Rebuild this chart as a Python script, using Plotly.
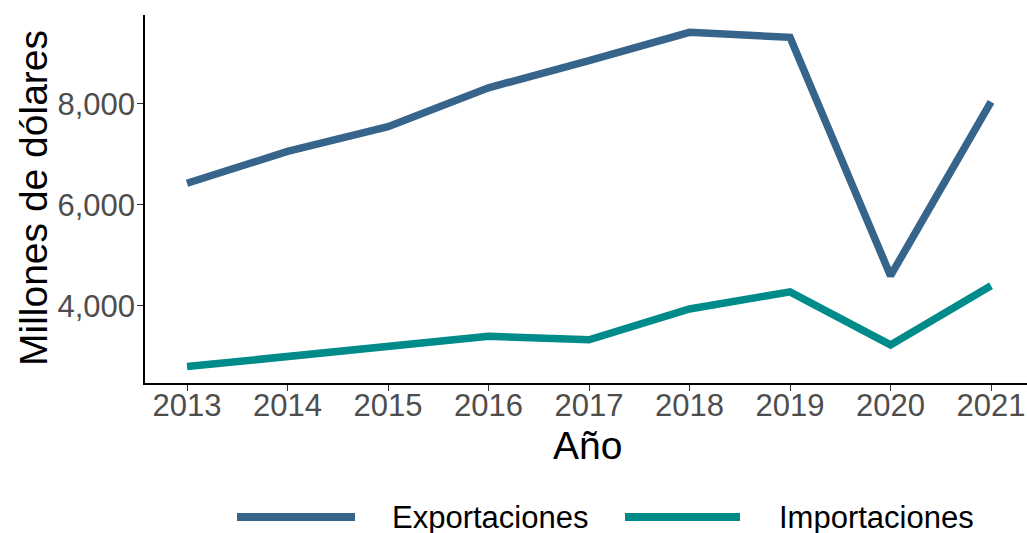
import plotly.graph_objects as go

years = [2013, 2014, 2015, 2016, 2017, 2018, 2019, 2020, 2021]
exportaciones = [6430, 7060, 7550, 8320, 8860, 9420, 9320, 4600, 8040]
importaciones = [2800, 3010, 3200, 3400, 3330, 3940, 4280, 3230, 4400]
series_names = ["Exportaciones", "Importaciones"]
colors = ["#36648B", "#008B8B"]
y_ticks = [4000, 6000, 8000]
y_ticklabels = ["4,000", "6,000", "8,000"]

W, H = 1027, 533
L, R, T, B = 145, 1027, 15, 383

def px_x(p):
    return (p - L) / (R - L)

def px_y(p):
    return (B - p) / (B - T)

fig = go.Figure()
for name, vals, col in zip(series_names, [exportaciones, importaciones], colors):
    fig.add_trace(go.Scatter(x=years, y=vals, mode="lines", name=name,
                             line=dict(color=col, width=7.5), showlegend=False))

font_family = "Liberation Sans, Arial, sans-serif"

fig.update_layout(
    width=W, height=H,
    margin=dict(l=L, r=W - R, t=T, b=H - B, pad=0),
    plot_bgcolor="white", paper_bgcolor="white",
    font=dict(family=font_family),
    xaxis=dict(range=[2012.582, 2021.358], tickmode="array", tickvals=years,
               ticktext=[str(y) for y in years], showgrid=False, zeroline=False,
               showline=True, linecolor="black", linewidth=1.6,
               ticks="outside", ticklen=6, tickwidth=1.4, tickcolor="#333333",
               ticklabelstandoff=-12,
               tickfont=dict(size=31, color="#4D4D4D", family=font_family)),
    yaxis=dict(range=[2475, 9762], tickmode="array", tickvals=y_ticks,
               ticktext=y_ticklabels, showgrid=False, zeroline=False,
               showline=True, linecolor="black", linewidth=1.6,
               ticks="outside", ticklen=6, tickwidth=1.4, tickcolor="#333333",
               ticklabelstandoff=-4,
               tickfont=dict(size=31, color="#4D4D4D", family=font_family)),
)

# Axis titles
fig.add_annotation(text="Año", xref="paper", yref="paper", x=px_x(587), y=px_y(445),
                   showarrow=False, font=dict(size=39, color="black"),
                   xanchor="center", yanchor="middle")
fig.add_annotation(text="Millones de dólares", xref="paper", yref="paper", x=px_x(33), y=px_y(198),
                   showarrow=False, textangle=-90, font=dict(size=39, color="black"),
                   xanchor="center", yanchor="middle")

# Legend (manual)
leg_y = 517
leg_items = [(237, 355, 390), (625, 740, 777)]
for (x0, x1, tx), name, col in zip(leg_items, series_names, colors):
    fig.add_shape(type="line", xref="paper", yref="paper",
                  x0=px_x(x0), x1=px_x(x1), y0=px_y(leg_y), y1=px_y(leg_y),
                  line=dict(color=col, width=8))
    fig.add_annotation(text=name, xref="paper", yref="paper", x=px_x(tx), y=px_y(leg_y),
                       showarrow=False, font=dict(size=31, color="black"),
                       xanchor="left", yanchor="middle")

fig.write_html("out.html", config={"displayModeBar": False},
               post_script="document.body.style.margin='0';document.body.style.overflow='hidden';")
